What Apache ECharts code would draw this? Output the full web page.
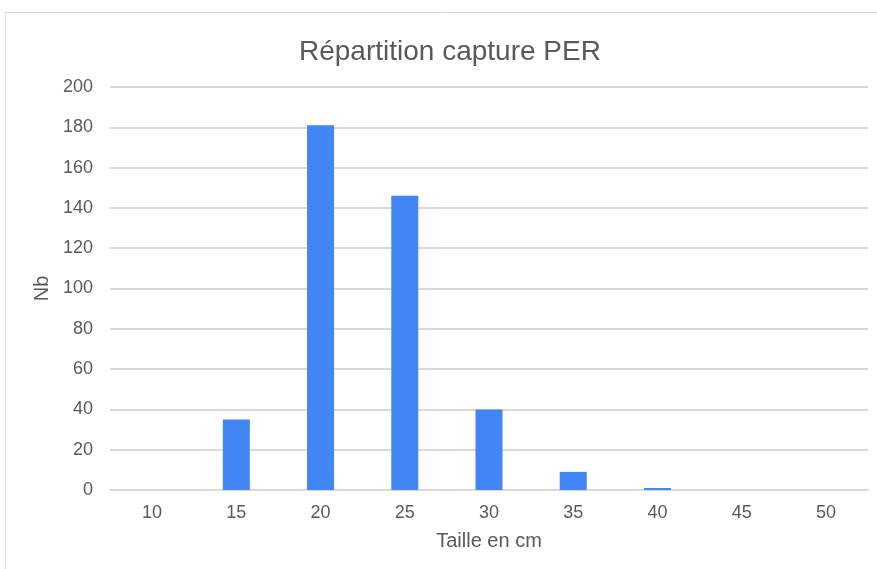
<!DOCTYPE html>
<html>
<head>
<meta charset="utf-8">
<script src="https://cdn.jsdelivr.net/npm/echarts@6/dist/echarts.min.js"></script>
<style>
  html, body { margin: 0; padding: 0; background: #fff; }
  #chart { width: 877px; height: 569px; }
</style>
</head>
<body>
<div id="chart"></div>
<script>
// taille (cm) -> nombre de captures
const sizes = ['10', '15', '20', '25', '30', '35', '40', '45', '50']
const counts = [0, 35, 181, 146, 40, 9, 1, 0, 0]
const yTicks = { min: 0, max: 200, interval: 20 }

const textColor = '#595959'
const font = 'Liberation Sans, Arial, sans-serif'

const chart = echarts.init(document.getElementById('chart'))

chart.setOption({
  animation: false,
  title: {
    text: 'Répartition capture PER',
    left: 294,
    top: 33,
    textStyle: { color: textColor, fontSize: 28, fontWeight: 'normal', fontFamily: font },
  },
  graphic: [{
    type: 'rect',
    shape: { x: 5.5, y: 12.5, width: 900, height: 600 },
    style: { fill: 'none', stroke: '#d9d9d9', lineWidth: 1 },
    silent: true,
  }],
  grid: {
    left: 110,
    right: 9,
    top: 87,
    bottom: 79,
  },
  xAxis: {
    type: 'category',
    data: sizes,
    name: 'Taille en cm',
    nameLocation: 'middle',
    nameGap: 41,
    nameTextStyle: { color: textColor, fontSize: 20, fontFamily: font },
    axisLine: { lineStyle: { color: '#d9d9d9', width: 2 } },
    axisTick: { show: false },
    axisLabel: { color: textColor, fontSize: 18, fontFamily: font, margin: 14 },
  },
  yAxis: {
    type: 'value',
    min: yTicks.min,
    max: yTicks.max,
    interval: yTicks.interval,
    name: 'Nb',
    nameLocation: 'middle',
    nameGap: 52,
    nameTextStyle: { color: textColor, fontSize: 20, fontFamily: font },
    axisLine: { show: false },
    axisTick: { show: false },
    axisLabel: { color: textColor, fontSize: 18, fontFamily: font, margin: 17 },
    splitLine: { lineStyle: { color: '#d9d9d9', width: 2 } },
  },
  series: [{
    type: 'bar',
    data: counts,
    barWidth: 27,
    itemStyle: { color: '#4285f4' },
  }],
})
</script>
</body>
</html>
